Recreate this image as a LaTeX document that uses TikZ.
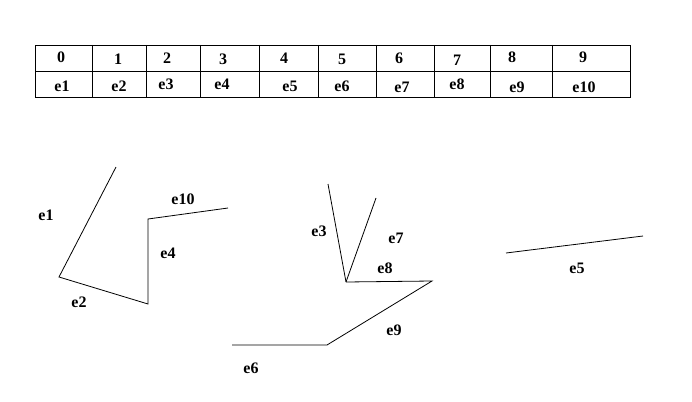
\documentclass[tikz,border=0pt]{standalone}
\usepackage{fontspec}
\setmainfont{Liberation Serif}
\begin{document}
\begin{tikzpicture}[x=1pt,y=-1pt,
  lbl/.style={font=\bfseries\fontsize{16}{18}\selectfont, inner sep=0pt},
  seg/.style={line width=0.8pt, black}]
\useasboundingbox (0,0) rectangle (692,401);
% table
\draw[seg] (35,45) rectangle (630,97);
\draw[seg] (35,71) -- (630,71);
\foreach \x in {92,146,200,259,318,376,434,490,552}
  \draw[seg] (\x,45) -- (\x,97);
\foreach \n/\x/\y in {0/61/57,1/118/59,2/167/58,3/223/59,4/284/58,5/342/59,6/399/58,7/457/60,8/512/57,9/583/57}
  \node[lbl] (n\n) at (\x,\y) {\n};
\foreach \n/\x/\y in {1/62/86,2/119/86,3/166/84,4/222/84,5/290/86,6/342/86,7/402/87,8/457/84,9/517/87,10/584/87}
  \node[lbl] (t\n) at (\x,\y) {e\n};
% left polyline
\coordinate (a) at (116,167);
\coordinate (b) at (59,277);
\coordinate (c) at (148,304);
\coordinate (d) at (148,219);
\coordinate (e) at (228,208);
\draw[seg] (a) -- (b) -- (c) -- (d) -- (e);
\node[lbl] (le1) at (46,215) {e1};
\node[lbl] (le2) at (79,302) {e2};
\node[lbl] (le4) at (168,253) {e4};
\node[lbl] (le10) at (183,199) {e10};
% middle group
\coordinate (f) at (328,184);
\coordinate (g) at (346,282);
\coordinate (h) at (376,198);
\coordinate (k) at (432,281);
\coordinate (m) at (327,345);
\coordinate (p) at (232,345);
\draw[seg] (f) -- (g);
\draw[seg] (h) -- (g);
\draw[seg] (g) -- (k) -- (m) -- (p);
\node[lbl] (le3) at (319,231) {e3};
\node[lbl] (le7) at (396,238) {e7};
\node[lbl] (le8) at (385,268) {e8};
\node[lbl] (le9) at (394,330) {e9};
\node[lbl] (le6) at (251,368) {e6};
% right segment
\coordinate (q) at (506,253);
\coordinate (r) at (643,236);
\draw[seg] (q) -- (r);
\node[lbl] (le5) at (577,268) {e5};
\end{tikzpicture}
\end{document}
